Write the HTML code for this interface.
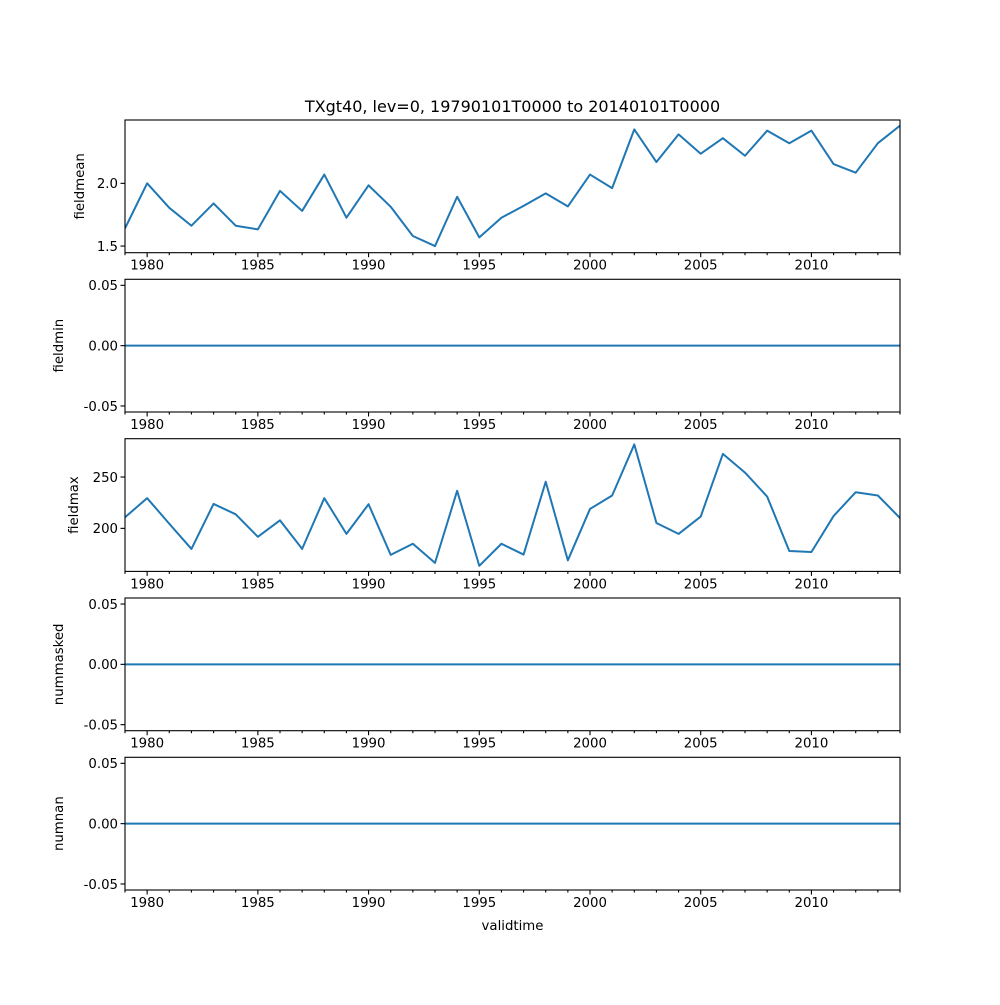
<!DOCTYPE html>
<html><head><meta charset="utf-8"><style>
body{margin:0;background:#fff}
svg text{font-family:"DejaVu Sans","Liberation Sans",sans-serif;fill:#000}
</style></head><body>
<svg id="chart" width="1000" height="1000" xmlns="http://www.w3.org/2000/svg">
<rect width="1000" height="1000" fill="#fff"/>
<text x="512.5" y="112" font-size="16" text-anchor="middle">TXgt40, lev=0, 19790101T0000 to 20140101T0000</text>
<text x="512.5" y="930" font-size="13.3" text-anchor="middle">validtime</text>
</svg>
<script>
const years=[1979,1980,1981,1982,1983,1984,1985,1986,1987,1988,1989,1990,1991,1992,1993,1994,1995,1996,1997,1998,1999,2000,2001,2002,2003,2004,2005,2006,2007,2008,2009,2010,2011,2012,2013,2014];
const fieldmean=[1.641,2.00,1.805,1.662,1.84,1.662,1.633,1.94,1.78,2.07,1.726,1.984,1.813,1.58,1.50,1.893,1.569,1.726,1.82,1.92,1.816,2.07,1.962,2.43,2.17,2.39,2.236,2.36,2.22,2.42,2.32,2.42,2.154,2.085,2.32,2.46];
const fieldmin=years.map(()=>0);
const fieldmax=[210.8,229.4,204.5,180,223.8,213.7,191.8,207.8,180,229.4,194.6,223.5,174.2,185,166.4,236.6,163.5,185,174.5,245.4,168.9,218.9,232,281.7,205.2,194.6,211.5,272.5,254.3,231,178,177,212,235.2,232,210.1];
const nummasked=years.map(()=>0);
const numnan=years.map(()=>0);
const xTicks=[1980,1985,1990,1995,2000,2005,2010];
const panels=[
 {name:'fieldmean',data:fieldmean,ymin:1.447,ymax:2.505,ticks:[1.5,2.0],fmt:v=>v.toFixed(1),lx:84},
 {name:'fieldmin',data:fieldmin,ymin:-0.055,ymax:0.055,ticks:[-0.05,0,0.05],fmt:v=>v.toFixed(2),lx:63},
 {name:'fieldmax',data:fieldmax,ymin:158.1,ymax:287.3,ticks:[200,250],fmt:v=>v.toFixed(0),lx:78},
 {name:'nummasked',data:nummasked,ymin:-0.055,ymax:0.055,ticks:[-0.05,0,0.05],fmt:v=>v.toFixed(2),lx:63},
 {name:'numnan',data:numnan,ymin:-0.055,ymax:0.055,ticks:[-0.05,0,0.05],fmt:v=>v.toFixed(2),lx:63}
];
const svg=document.getElementById('chart');
const NS='http://www.w3.org/2000/svg';
const L=125,R=900,H=132.7,tops=[120,279.3,438.7,598,757.3];
const xs=y=>L+(y-1979)/(2014-1979)*(R-L);
function mk(tag,attrs,parent){const e=document.createElementNS(NS,tag);for(const k in attrs)e.setAttribute(k,attrs[k]);(parent||svg).appendChild(e);return e;}
panels.forEach((p,i)=>{
 const T=tops[i],B=T+H;
 const ys=v=>B-(v-p.ymin)/(p.ymax-p.ymin)*H;
 const g=mk('g',{});
 
 
 const d=years.map((y,j)=>(j?'L':'M')+xs(y).toFixed(2)+' '+ys(p.data[j]).toFixed(2)).join(' ');
 const cp=mk('clipPath',{id:'c'+i},g);mk('rect',{x:L,y:T-1,width:R-L,height:H+2},cp);
 const line=mk('path',{d:d,fill:'none',stroke:'#1f77b4','stroke-width':2,'stroke-linejoin':'round','clip-path':'url(#c'+i+')'},g);
 
 
 const fr=mk('rect',{x:L,y:T,width:R-L,height:H,fill:'none',stroke:'#000','stroke-width':1.1},g);
 
 
 years.forEach(y=>{const x=xs(y);const maj=xTicks.includes(y);mk('line',{x1:x,x2:x,y1:B,y2:B+(maj?4.5:2.5),stroke:'#000','stroke-width':1.1},g);});
 xTicks.forEach(y=>{const t=mk('text',{x:xs(y),y:B+17,'font-size':13.3,'text-anchor':'middle'},g);t.textContent=y;
  
  });
 p.ticks.forEach(v=>{const y=ys(v);mk('line',{x1:L-4.5,x2:L,y1:y,y2:y,stroke:'#000','stroke-width':1.1},g);
  const t=mk('text',{x:L-7,y:y+4.8,'font-size':13.3,'text-anchor':'end'},g);t.textContent=p.fmt(v);
  
  });
 const yl=mk('text',{x:p.lx,y:T+H/2,'font-size':13.3,'text-anchor':'middle',transform:'rotate(-90 '+p.lx+' '+(T+H/2)+')'},g);
 yl.textContent=p.name;
 
 
});
</script>
</body></html>
